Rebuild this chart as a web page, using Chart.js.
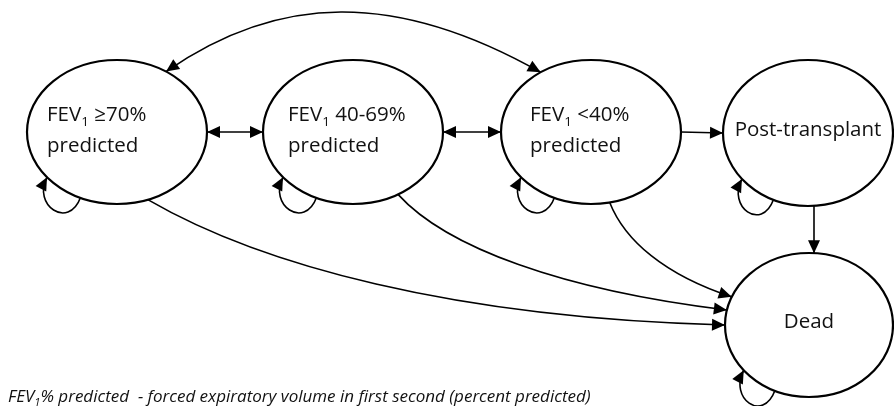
<!DOCTYPE html>
<html>
<head>
<meta charset="utf-8">
<script src="https://cdn.jsdelivr.net/npm/chart.js@4.4.1/dist/chart.umd.min.js"></script>
<style>
  html, body { margin: 0; padding: 0; background: #fff; }
  #wrap { width: 894px; height: 406px; }
</style>
</head>
<body>
<div id="wrap"><canvas id="diagram"></canvas></div>
<script>
// states of the model ('_1' marks the subscript in FEV1)
const stateLabels = [['FEV_1 ≥70%', 'predicted'], ['FEV_1 40-69%', 'predicted'], ['FEV_1 <40%', 'predicted'], ['Post-transplant'], ['Dead']];
// state centres in diagram units
const stateX = [117, 353, 591, 808, 809];
const stateY = [132, 132, 132, 133, 325];
// transitions [from, to, kind]
const transitions = [[0, 1, 'both'], [1, 2, 'both'], [2, 3, 'one'], [3, 4, 'down'],
  [0, 2, 'arc'], [0, 4, 'curve'], [1, 4, 'curve'], [2, 4, 'curve']];
const selfLoops = [0, 1, 2, 3, 4];
const footnote = 'FEV_1% predicted  - forced expiratory volume in first second (percent predicted)';

// layout
const RX = [90, 90, 90, 85, 84];
const RY = [72, 72, 72, 73, 72];
const textDx = [-70, -65, -61, null, null];
const FONT = '"Open Sans", "Liberation Sans", sans-serif';
// curve shapes: angles on the ellipses (deg) and control offsets from the ends
const curveShape = {
  '0-2': { a0: -57, a1: 236, c1: [112, -78], c2: [-145, -82], both: true },
  '0-4': { a0: 70, a1: 180, c1: [112, 65], c2: [-273, -7] },
  '1-4': { a0: 60, a1: 192, c1: [48, 53], c2: [-165, -20] },
  '2-4': { a0: 78, a1: 203, c1: [15, 38], c2: [-67, -22] }
};

function onEllipse(i, deg) {
  const t = deg * Math.PI / 180;
  return [stateX[i] + RX[i] * Math.cos(t), stateY[i] + RY[i] * Math.sin(t)];
}

function drawRich(ctx, str, x, y, size, italic) {
  const parts = str.split('_');
  const st = italic ? 'italic ' : '';
  let cx = x;
  parts.forEach((p, k) => {
    let main = p;
    if (k > 0) {
      ctx.font = st + (size * 0.66).toFixed(1) + 'px ' + FONT;
      ctx.fillText(p[0], cx, y + size * 0.24);
      cx += ctx.measureText(p[0]).width;
      main = p.slice(1);
    }
    ctx.font = st + size.toFixed(1) + 'px ' + FONT;
    ctx.fillText(main, cx, y);
    cx += ctx.measureText(main).width;
  });
  return cx - x;
}

function richWidth(ctx, str, size, italic) {
  ctx.save();
  ctx.globalAlpha = 0;
  const w = drawRich(ctx, str, 0, 0, size, italic);
  ctx.restore();
  return w;
}

function arrowHead(ctx, tip, from) {
  const dx = tip.x - from.x, dy = tip.y - from.y;
  const len = Math.hypot(dx, dy) || 1;
  const ux = dx / len, uy = dy / len;
  const L = 13, W = 6;
  ctx.beginPath();
  ctx.moveTo(tip.x, tip.y);
  ctx.lineTo(tip.x - ux * L - uy * W, tip.y - uy * L + ux * W);
  ctx.lineTo(tip.x - ux * L + uy * W, tip.y - uy * L - ux * W);
  ctx.closePath();
  ctx.fill();
}

const diagramPlugin = {
  id: 'diagram',
  afterDatasetsDraw(chart) {
    const ctx = chart.ctx;
    const sx = chart.scales.x, sy = chart.scales.y;
    const P = (x, y) => ({ x: sx.getPixelForValue(x), y: sy.getPixelForValue(y) });
    ctx.save();
    ctx.strokeStyle = '#000';
    ctx.fillStyle = '#000';

    // states
    stateX.forEach((x, i) => {
      const c = P(x, stateY[i]);
      const rx = Math.abs(sx.getPixelForValue(x + RX[i]) - c.x);
      const ry = Math.abs(sy.getPixelForValue(stateY[i] + RY[i]) - c.y);
      ctx.beginPath();
      ctx.ellipse(c.x, c.y, rx, ry, 0, 0, Math.PI * 2);
      ctx.fillStyle = '#fff';
      ctx.fill();
      ctx.lineWidth = 2.2;
      ctx.stroke();
      ctx.fillStyle = '#111';
      ctx.textBaseline = 'alphabetic';
      ctx.textAlign = 'left';
      const lines = stateLabels[i];
      const size = 20.5;
      if (lines.length === 2) {
        lines.forEach((ln, k) => {
          const p = P(x + textDx[i], stateY[i] + (k === 0 ? -11 : 20));
          drawRich(ctx, ln, p.x, p.y, size, false);
        });
      } else {
        const w = richWidth(ctx, lines[0], size, false);
        const p = P(x, stateY[i] + 3);
        drawRich(ctx, lines[0], p.x - w / 2, p.y, size, false);
      }
    });

    ctx.fillStyle = '#000';
    ctx.lineWidth = 1.6;

    // transitions
    transitions.forEach(([a, b, kind]) => {
      if (kind === 'both' || kind === 'one') {
        const s = P(stateX[a] + RX[a], stateY[a]);
        const e = P(stateX[b] - RX[b], stateY[b]);
        ctx.beginPath(); ctx.moveTo(s.x, s.y); ctx.lineTo(e.x, e.y); ctx.stroke();
        arrowHead(ctx, e, s);
        if (kind === 'both') arrowHead(ctx, s, e);
      } else if (kind === 'down') {
        const xv = stateX[a] + 6;
        const ya = stateY[a] + RY[a] * Math.sqrt(1 - Math.pow((xv - stateX[a]) / RX[a], 2));
        const yb = stateY[b] - RY[b] * Math.sqrt(1 - Math.pow((xv - stateX[b]) / RX[b], 2));
        const s = P(xv, ya), e = P(xv, yb);
        ctx.beginPath(); ctx.moveTo(s.x, s.y); ctx.lineTo(e.x, e.y); ctx.stroke();
        arrowHead(ctx, e, s);
      } else {
        const g = curveShape[a + '-' + b];
        const p0 = onEllipse(a, g.a0), p3 = onEllipse(b, g.a1);
        const s = P(p0[0], p0[1]), e = P(p3[0], p3[1]);
        const c1 = P(p0[0] + g.c1[0], p0[1] + g.c1[1]);
        const c2 = P(p3[0] + g.c2[0], p3[1] + g.c2[1]);
        ctx.beginPath(); ctx.moveTo(s.x, s.y);
        ctx.bezierCurveTo(c1.x, c1.y, c2.x, c2.y, e.x, e.y); ctx.stroke();
        arrowHead(ctx, e, c2);
        if (g.both) arrowHead(ctx, s, c1);
      }
    });

    // self loops at the lower left of each state
    selfLoops.forEach(i => {
      const p0 = onEllipse(i, 114), p3 = onEllipse(i, 141);
      const s = P(p0[0], p0[1]), e = P(p3[0], p3[1]);
      const c1 = P(p0[0] - 12, p0[1] + 32), c2 = P(p3[0] - 15, p3[1] + 28);
      ctx.beginPath(); ctx.moveTo(s.x, s.y);
      ctx.bezierCurveTo(c1.x, c1.y, c2.x, c2.y, e.x, e.y); ctx.stroke();
      arrowHead(ctx, e, c2);
    });

    // footnote, sized to span the same width as in the source figure
    ctx.fillStyle = '#111';
    const f0 = P(8, 402), f1 = P(602, 402);
    const w15 = richWidth(ctx, footnote, 15, true);
    const fsize = Math.min(17, 15 * (f1.x - f0.x) / w15);
    drawRich(ctx, footnote, f0.x, f0.y, fsize, true);
    ctx.restore();
  }
};

const ctx = document.getElementById('diagram').getContext('2d');
const chart = new Chart(ctx, {
  type: 'scatter',
  data: {
    datasets: [{
      data: stateX.map((x, i) => ({ x: x, y: stateY[i] })),
      pointRadius: 0
    }]
  },
  options: {
    responsive: true,
    maintainAspectRatio: false,
    animation: false,
    layout: { padding: 0 },
    scales: {
      x: { type: 'linear', min: 0, max: 894, display: false },
      y: { type: 'linear', min: 0, max: 406, reverse: true, display: false }
    },
    plugins: {
      legend: { display: false },
      tooltip: { enabled: false }
    }
  },
  plugins: [diagramPlugin]
});
</script>
</body>
</html>
